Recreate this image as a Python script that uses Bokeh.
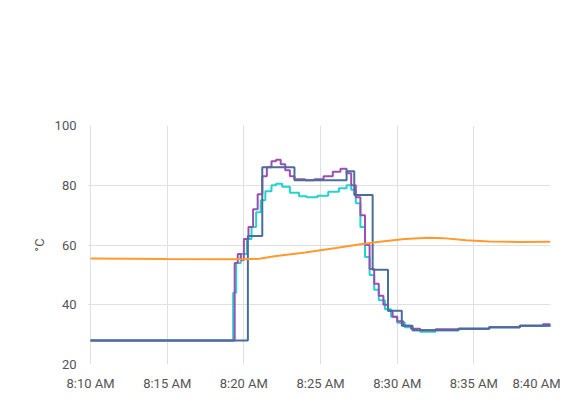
from bokeh.plotting import figure
from bokeh.models import Legend, LegendItem, DatetimeTickFormatter, Range1d
from bokeh.embed import file_html
from bokeh.resources import INLINE

# minutes after 8:10
kessel_t = [0, 10.26, 11.2, 13.3, 16.7, 17.2, 18.4, 19.4, 20.3, 21, 22, 24, 26, 28, 30]
kessel_v = [28, 63, 86, 81.7, 84.7, 76.7, 51.7, 38, 33, 31.5, 31.5, 32, 32.5, 33, 33.5]

vorlauf_t = [0, 9.4, 9.6, 9.8, 10.0, 10.3, 10.6, 10.9, 11.2, 11.5, 11.8, 12.1, 12.4, 12.7, 13.0, 13.3, 14.0,
             14.6, 15.2, 15.8, 16.3, 16.7, 17.0, 17.3, 17.6, 17.9, 18.2, 18.5, 18.8, 19.1, 19.4, 19.7, 20.0,
             20.4, 20.9, 21.5, 22.5, 24, 26, 28, 29.5, 30]
vorlauf_v = [28, 54, 57, 55, 62, 66, 72, 77, 83, 86, 88, 88.5, 87, 85, 83, 82, 81.7,
             82, 83, 84.5, 85.5, 84, 80, 76, 70, 60, 52, 47, 43, 40, 38, 36, 34.5,
             33, 32, 31.5, 31.8, 32, 32.5, 33, 33.5, 33.5]

ruecklauf_t = [0, 9.3, 9.5, 9.8, 10.2, 10.5, 10.8, 11.1, 11.4, 11.8, 12.1, 12.5, 13.0, 13.6, 14.1, 14.8,
               15.5, 16.2, 16.7, 17.0, 17.3, 17.6, 17.9, 18.2, 18.5, 18.8, 19.2, 19.6, 20.0, 20.5, 21,
               21.5, 22.5, 24, 26, 28, 30]
ruecklauf_v = [28, 44, 54, 57, 62, 66, 71, 75, 78, 80, 80.5, 79.5, 77.5, 76.3, 76, 76.5,
               77.8, 79, 80, 78.5, 74, 66, 56, 50, 45, 41.5, 38.5, 36, 34, 32.5, 31.5,
               31, 31.5, 32, 32.5, 33, 33.5]

ww_t = [0, 5, 10, 11, 12, 14, 16, 17.5, 19, 20.5, 22, 23, 24.5, 26, 28, 30]
ww_v = [55.5, 55.3, 55.2, 55.4, 56.2, 57.5, 59, 60.2, 61.2, 62, 62.4, 62.3, 61.6, 61.2, 61, 61.1]

names = ["ems-esp Boiler Kesseltemperatur", "ems-esp Boiler Aktuelle Vorlauftemperatur",
         "ems-esp Boiler Rücklauftemperatur", "ems-esp Boiler WW Aktuelle interne Temperatur"]

BASE = 1672560600000.0  # 2023-01-01 08:10 UTC in ms
MIN = 60000.0


def times(mins):
    return [BASE + m * MIN for m in mins]


p = figure(width=560, height=396, x_axis_type="datetime", output_backend="svg",
           toolbar_location=None, y_axis_label="°C",
           min_border_top=125, min_border_bottom=32, min_border_left=87, min_border_right=10)
p.x_range = Range1d(BASE - 0.2 * MIN, BASE + 30 * MIN)
p.y_range = Range1d(20, 100)

blue, purple, cyan, orange = "#4a6e9c", "#9b4fb5", "#22d3cf", "#ff9a2e"

p.step(times(ruecklauf_t), ruecklauf_v, mode="after", line_color=cyan, line_width=2)
p.step(times(vorlauf_t), vorlauf_v, mode="after", line_color=purple, line_width=2)
p.step(times(kessel_t), kessel_v, mode="after", line_color=blue, line_width=2)
p.line(times(ww_t), ww_v, line_color=orange, line_width=2)

# one small legend per item, placed above the frame like the reference
legend_pos = [(40, 344), (5, 315), (35, 286), (-15, 258)]
for name, c, loc in zip(names, [blue, purple, cyan, orange], legend_pos):
    r = p.scatter([BASE], [0], size=18, fill_color=c, fill_alpha=0.5, line_color=c, line_width=1.5)
    lg = Legend(items=[LegendItem(label=name, renderers=[r])], location=loc,
                border_line_color=None, background_fill_alpha=0,
                label_text_font="Roboto", label_text_font_size="14px", label_text_color="#333333",
                glyph_width=20, glyph_height=20, padding=0, margin=0)
    p.add_layout(lg)

p.xaxis.formatter = DatetimeTickFormatter(minutes="%-I:%M %p", hourmin="%-I:%M %p", hours="%-I:%M %p")
for ax in (p.xaxis, p.yaxis):
    ax.axis_line_color = None
    ax.major_tick_line_color = None
    ax.minor_tick_line_color = None
    ax.major_label_text_font = "Roboto"
    ax.major_label_text_font_size = "13px"
    ax.major_label_text_color = "#555555"
p.yaxis.ticker = [20, 40, 60, 80, 100]
p.yaxis.axis_label_text_font = "Roboto"
p.yaxis.axis_label_text_font_style = "normal"
p.yaxis.axis_label_text_color = "#555555"
p.yaxis.axis_label_text_font_size = "13px"
p.grid.grid_line_color = "#e0e0e0"
p.outline_line_color = None

open("out.html", "w").write(file_html(p, INLINE))
